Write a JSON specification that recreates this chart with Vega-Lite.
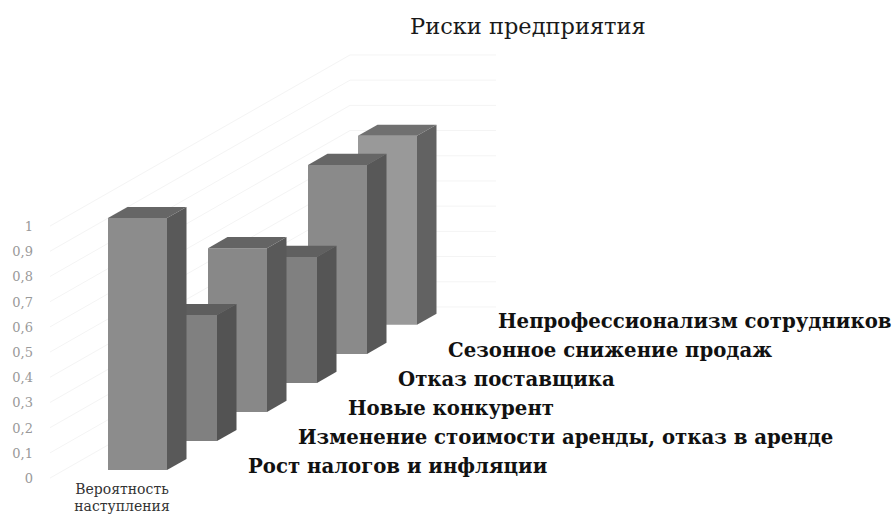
{"$schema":"https://vega.github.io/schema/vega-lite/v6.json","width":896,"height":518,"padding":0,"autosize":{"type":"none"},"background":"#ffffff","title":{"text":"Риски предприятия","anchor":"start","frame":"group","dx":410,"offset":-38,"font":"DejaVu Serif","fontSize":22.5,"fontWeight":"normal","color":"#1a1a1a"},"config":{"view":{"stroke":null}},"datasets":{"risks":[{"name":"Непрофессионализм сотрудников","order":5,"value":0.75},{"name":"Сезонное снижение продаж","order":4,"value":0.75},{"name":"Отказ поставщика","order":3,"value":0.5},{"name":"Новые конкурент","order":2,"value":0.65},{"name":"Изменение стоимости аренды, отказ в аренде","order":1,"value":0.5},{"name":"Рост налогов и инфляции","order":0,"value":1}],"ticks":[{"v":0,"label":"0"},{"v":0.1,"label":"0,1"},{"v":0.2,"label":"0,2"},{"v":0.3,"label":"0,3"},{"v":0.4,"label":"0,4"},{"v":0.5,"label":"0,5"},{"v":0.6,"label":"0,6"},{"v":0.7,"label":"0,7"},{"v":0.8,"label":"0,8"},{"v":0.9,"label":"0,9"},{"v":1,"label":"1"}]},"layer":[{"data":{"name":"ticks"},"transform":[{"calculate":"[0,1,2]","as":"k"},{"flatten":["k"]},{"calculate":"[-1.16,4.84,7.76][datum.k]","as":"gx"},{"calculate":"datum.v+[-0.032,0.647,0.647][datum.k]","as":"gy"}],"mark":{"type":"line","stroke":"#f4f4f4","strokeWidth":1},"encoding":{"x":{"field":"gx","type":"quantitative","scale":{"domain":[-2.16,15.76],"nice":false,"zero":false},"axis":null},"y":{"field":"gy","type":"quantitative","scale":{"domain":[-0.1904,1.8651],"nice":false,"zero":false},"axis":null},"detail":{"field":"v"}}},{"data":{"name":"ticks"},"transform":[{"calculate":"-1.5","as":"lx"},{"calculate":"datum.v-0.036","as":"ly"}],"mark":{"type":"text","align":"right","baseline":"middle","font":"DejaVu Serif","fontSize":13,"color":"#999999"},"encoding":{"x":{"field":"lx","type":"quantitative"},"y":{"field":"ly","type":"quantitative"},"text":{"field":"label"}}},{"data":{"name":"risks"},"transform":[{"calculate":"['front','top','side']","as":"face"},{"flatten":["face"]},{"calculate":"datum.face=='top'?[0,1,2,3]:[0,1]","as":"k"},{"flatten":["k"]},{"calculate":"datum.order+'-'+datum.face","as":"key"},{"calculate":"datum.order*0.1152","as":"base"},{"calculate":"datum.base+datum.value","as":"top"},{"calculate":"datum.face=='front'?[datum.order,datum.order+1.18][datum.k]:datum.face=='side'?[datum.order+1.18,datum.order+1.57][datum.k]:[datum.order,datum.order+0.39,datum.order+1.18,datum.order+1.57][datum.k]","as":"px"},{"calculate":"datum.face=='front'?datum.base:datum.face=='side'?datum.base+0.044*datum.k:[datum.top,datum.top,datum.top,datum.top+0.044][datum.k]","as":"py"},{"calculate":"datum.face=='front'?datum.top:datum.face=='side'?datum.top+0.044*datum.k:[datum.top,datum.top+0.044,datum.top+0.044,datum.top+0.044][datum.k]","as":"py2"}],"mark":{"type":"area","orient":"vertical","interpolate":"linear"},"encoding":{"x":{"field":"px","type":"quantitative"},"y":{"field":"py","type":"quantitative","stack":null},"y2":{"field":"py2"},"color":{"field":"key","type":"nominal","legend":null,"scale":{"domain":["5-front","5-top","5-side","4-front","4-top","4-side","3-front","3-top","3-side","2-front","2-top","2-side","1-front","1-top","1-side","0-front","0-top","0-side"],"range":["#999999","#707070","#626262","#8a8a8a","#666666","#585858","#808080","#606060","#555555","#888888","#646464","#595959","#808080","#5e5e5e","#535353","#8c8c8c","#666666","#595959"]}}}},{"data":{"name":"risks"},"transform":[{"calculate":"datum.order+2.8","as":"tx"},{"calculate":"datum.order*0.1152+0.012","as":"ty"}],"mark":{"type":"text","align":"left","baseline":"middle","font":"DejaVu Serif","fontWeight":"bold","fontSize":19.7,"color":"#111111"},"encoding":{"x":{"field":"tx","type":"quantitative"},"y":{"field":"ty","type":"quantitative"},"text":{"field":"name"}}},{"data":{"values":[{"label":["Вероятность","наступления"],"cx":0.28,"cy":-0.08}]},"mark":{"type":"text","align":"center","baseline":"middle","font":"DejaVu Serif","fontSize":14,"lineHeight":17,"color":"#333333"},"encoding":{"x":{"field":"cx","type":"quantitative"},"y":{"field":"cy","type":"quantitative"},"text":{"field":"label"}}}]}
